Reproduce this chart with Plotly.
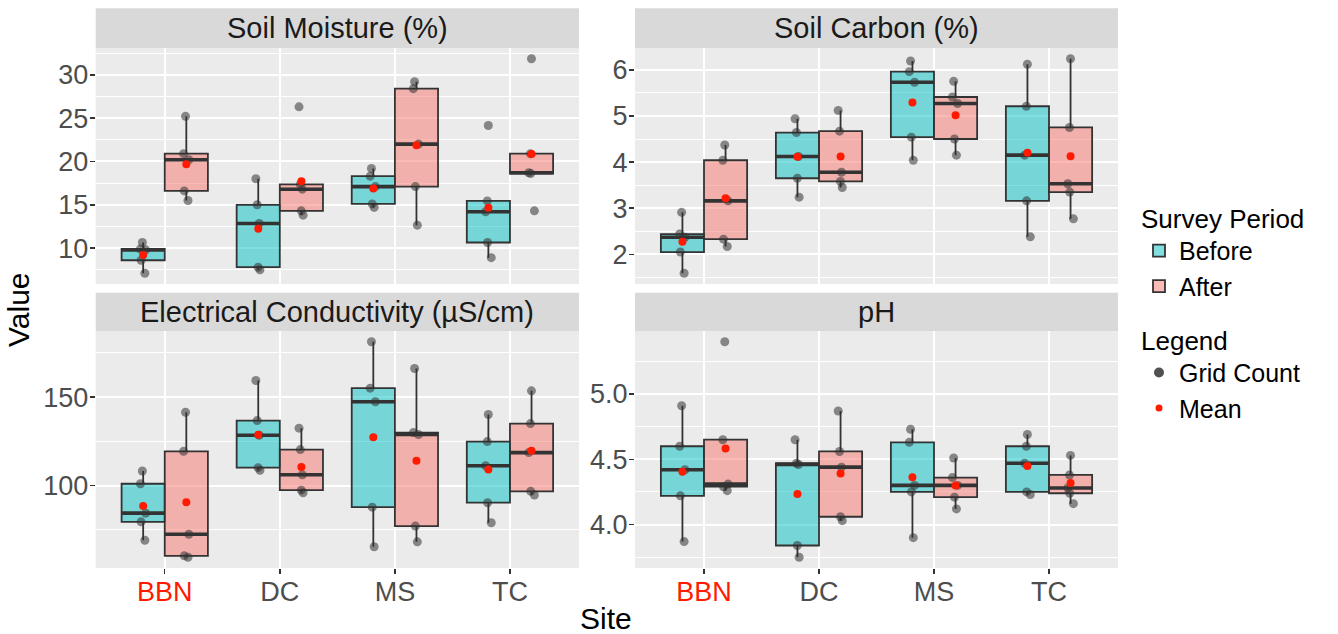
import numpy as np
import plotly.graph_objects as go

# ---------------- data ----------------
sites = ["BBN", "DC", "MS", "TC"]
periods = ["Before", "After"]
panel_titles = ["Soil Moisture (%)", "Soil Carbon (%)",
                "Electrical Conductivity (µS/cm)", "pH"]

moisture_before = [[10.65, 9.9, 9.8, 8.6, 7.1],
                   [18.0, 15.0, 12.85, 7.8, 7.5],
                   [19.2, 18.3, 17.1, 15.1, 14.7],
                   [24.15, 15.45, 14.2, 10.65, 8.9]]
moisture_after = [[25.2, 20.9, 20.2, 16.6, 15.5],
                  [26.3, 17.35, 16.8, 14.3, 13.8],
                  [29.2, 28.4, 22.0, 17.1, 12.65],
                  [31.85, 20.9, 18.7, 18.6, 14.3]]

carbon_before = [[2.91, 2.44, 2.37, 2.05, 1.59],
                 [4.94, 4.64, 4.12, 3.65, 3.24],
                 [6.19, 5.96, 5.73, 4.54, 4.04],
                 [6.12, 5.21, 4.15, 3.16, 2.38]]
carbon_after = [[4.37, 4.04, 3.16, 2.33, 2.17],
                [5.12, 4.67, 3.78, 3.58, 3.45],
                [5.75, 5.41, 5.27, 4.50, 4.15],
                [6.24, 4.75, 3.53, 3.35, 2.77]]

ec_before = [[108.3, 101.1, 84.5, 79.6, 69.2],
             [159.4, 136.8, 128.5, 110.2, 108.7],
             [181.3, 155.1, 147.4, 87.9, 65.5],
             [140.2, 124.9, 111.3, 90.4, 79.1]]
ec_after = [[141.5, 119.4, 72.6, 60.4, 59.6],
            [132.5, 120.4, 106.2, 97.5, 96.0],
            [166.2, 130.0, 128.9, 77.2, 68.3],
            [153.6, 135.1, 118.7, 96.8, 94.7]]

ph_before = [[4.91, 4.60, 4.42, 4.22, 3.87],
             [4.65, 4.47, 4.46, 3.84, 3.75],
             [4.73, 4.63, 4.30, 4.25, 3.90],
             [4.69, 4.60, 4.47, 4.25, 4.23]]
ph_after = [[5.40, 4.65, 4.31, 4.29, 4.26],
            [4.87, 4.56, 4.44, 4.06, 4.03],
            [4.51, 4.36, 4.30, 4.21, 4.12],
            [4.53, 4.38, 4.28, 4.24, 4.16]]

panel_data = [(moisture_before, moisture_after),
              (carbon_before, carbon_after),
              (ec_before, ec_after),
              (ph_before, ph_after)]
major_steps = [5, 1, 50, 0.5]
tick_formats = ["", "", "", ".1f"]

# ---------------- styling ----------------
W, H = 1338, 634
FONT = "Liberation Sans, Arial, Helvetica, sans-serif"
fills = {"Before": "rgba(0,191,196,0.5)", "After": "rgba(248,118,109,0.5)"}
offsets = {"Before": -0.1875, "After": 0.1875}
BOXW = 0.375
LINE = "#333333"
RED = "#FF1A00"

x_doms_px = [(95.7, 579.0), (635.0, 1118.0)]
plot_rows_px = [(48.0, 284.0), (331.0, 568.0)]
strip_rows_px = [(8.3, 48.0), (292.7, 331.0)]


def pxx(p):
    return p / W


def pxy(p):
    return 1 - p / H


fig = go.Figure()
layout = dict(
    width=W, height=H, margin=dict(l=0, r=0, t=0, b=0),
    paper_bgcolor="white", plot_bgcolor="#EBEBEB",
    font=dict(family=FONT, color="#1A1A1A"),
    hovermode=False, boxmode="overlay",
)
shapes = []
annotations = []

for k, (title, (before, after)) in enumerate(zip(panel_titles, panel_data)):
    row, col = divmod(k, 2)
    sfx = "" if k == 0 else str(k + 1)
    xa, ya = "x" + sfx, "y" + sfx

    for period, data in (("Before", before), ("After", after)):
        xs, ys = [], []
        mx, my, medx, medy = [], [], [], []
        for si, vals in enumerate(data):
            c = si + 1 + offsets[period]
            xs += [c] * len(vals)
            ys += list(vals)
            mx.append(c)
            my.append(float(np.mean(vals)))
            med = float(np.median(vals))
            medx += [c - BOXW / 2, c + BOXW / 2, None]
            medy += [med, med, None]
        fig.add_trace(go.Box(
            x=xs, y=ys, width=BOXW, quartilemethod="inclusive",
            boxpoints="all", jitter=0.15, pointpos=0, whiskerwidth=0,
            fillcolor=fills[period], line=dict(color=LINE, width=1.8),
            marker=dict(color="rgba(50,50,50,0.55)", size=9),
            name=period, legendgroup=period, legend="legend",
            showlegend=(k == 0), xaxis=xa, yaxis=ya,
        ))
        fig.add_trace(go.Scatter(
            x=medx, y=medy, mode="lines", line=dict(color=LINE, width=3.6),
            showlegend=False, xaxis=xa, yaxis=ya,
        ))
        fig.add_trace(go.Scatter(
            x=mx, y=my, mode="markers",
            marker=dict(color=RED, size=8),
            showlegend=False, xaxis=xa, yaxis=ya,
        ))

    allv = np.concatenate([np.ravel(before), np.ravel(after)])
    lo, hi = float(allv.min()), float(allv.max())
    pad = 0.05 * (hi - lo)
    step = major_steps[k]

    x0, x1 = x_doms_px[col]
    r0, r1 = plot_rows_px[row]
    s0, s1 = strip_rows_px[row]
    bottom = row == 1

    layout["xaxis" + sfx] = dict(
        domain=[pxx(x0), pxx(x1)], anchor=ya, range=[0.4, 4.6],
        tickmode="array", tickvals=[1, 2, 3, 4],
        ticktext=["<span style='color:%s'>BBN</span>" % RED, "DC", "MS", "TC"],
        showticklabels=bottom, ticks="outside" if bottom else "",
        ticklen=5, tickwidth=1.5, tickcolor=LINE, ticklabelstandoff=-5,
        tickfont=dict(size=27, color="#4D4D4D", family=FONT),
        showgrid=True, gridcolor="white", gridwidth=2,
        zeroline=False, showline=False, fixedrange=True,
    )
    layout["yaxis" + sfx] = dict(
        domain=[pxy(r1), pxy(r0)], anchor=xa, range=[lo - pad, hi + pad],
        tickmode="linear", tick0=0, dtick=step, tickformat=tick_formats[k],
        ticks="outside", ticklen=5, tickwidth=1.5, tickcolor=LINE,
        ticklabelstandoff=-4,
        tickfont=dict(size=27, color="#4D4D4D", family=FONT),
        showgrid=True, gridcolor="white", gridwidth=2,
        minor=dict(tick0=0, dtick=step / 2, showgrid=True,
                   gridcolor="white", gridwidth=1, ticks=""),
        zeroline=False, showline=False, fixedrange=True,
    )
    shapes.append(dict(type="rect", xref="paper", yref="paper",
                       x0=pxx(x0), x1=pxx(x1), y0=pxy(s1), y1=pxy(s0),
                       fillcolor="#D9D9D9", line=dict(width=0), layer="below"))
    annotations.append(dict(text=title, xref="paper", yref="paper",
                            x=pxx((x0 + x1) / 2), y=pxy((s0 + s1) / 2),
                            xanchor="center", yanchor="middle", showarrow=False,
                            font=dict(size=29, color="#1A1A1A", family=FONT)))

# legend-only entries for the point layers
fig.add_trace(go.Scatter(x=[None], y=[None], mode="markers", name="Grid Count",
                         marker=dict(color="rgba(50,50,50,0.85)", size=10),
                         legend="legend2", showlegend=True))
fig.add_trace(go.Scatter(x=[None], y=[None], mode="markers", name="Mean",
                         marker=dict(color=RED, size=7),
                         legend="legend2", showlegend=True))

# axis titles
annotations.append(dict(text="Site", xref="paper", yref="paper",
                        x=pxx(606), y=pxy(618), xanchor="center", yanchor="middle",
                        showarrow=False, font=dict(size=30, color="black", family=FONT)))
annotations.append(dict(text="Value", xref="paper", yref="paper",
                        x=pxx(18), y=pxy(310), xanchor="center", yanchor="middle",
                        textangle=-90, showarrow=False,
                        font=dict(size=30, color="black", family=FONT)))

legend_common = dict(xanchor="left", yanchor="top", bgcolor="rgba(0,0,0,0)",
                     font=dict(size=25, color="black", family=FONT),
                     tracegroupgap=0, itemclick=False, itemdoubleclick=False)
layout["legend"] = dict(legend_common, x=pxx(1139), y=pxy(194),
                        title=dict(text="Survey Period",
                                   font=dict(size=26, color="black", family=FONT)))
layout["legend2"] = dict(legend_common, x=pxx(1139), y=pxy(316),
                         title=dict(text="Legend",
                                    font=dict(size=26, color="black", family=FONT)))
layout["shapes"] = shapes
layout["annotations"] = annotations
fig.update_layout(**layout)

fig.write_html("out.html",
               config={"displayModeBar": False, "staticPlot": True},
               post_script="document.body.style.margin='0px';")
